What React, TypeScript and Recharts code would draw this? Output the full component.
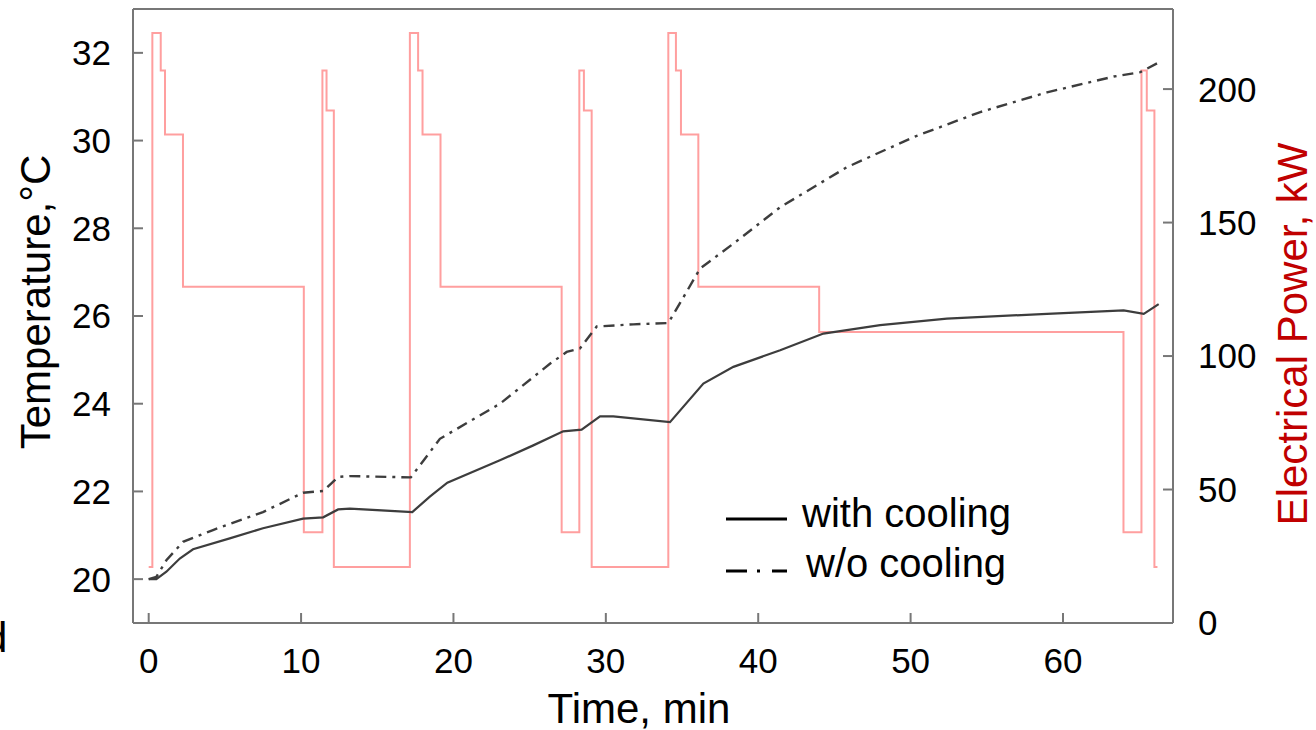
import { ComposedChart, Line, XAxis, YAxis } from 'recharts'

// axis ticks
const timeTicks = [0, 10, 20, 30, 40, 50, 60]
const tempTicks = [20, 22, 24, 26, 28, 30, 32]
const powerTicks = [0, 50, 100, 150, 200]

// temperature with cooling (min, °C)
const coolTime = [0, 0.5, 1.16, 2.04, 2.91, 5.32, 7.5, 10.13, 11.45, 12.43, 13.2, 17.3, 18.45, 19.6, 23.05, 25.24, 27.2, 28.41, 29.62, 30.49, 34.21, 36.4, 38.37, 41.44, 44.28, 48.0, 52.38, 58.95, 63.98, 65.3, 66.28]
const coolTemp = [20.0, 20.0, 20.17, 20.47, 20.68, 20.93, 21.16, 21.38, 21.41, 21.59, 21.61, 21.53, 21.88, 22.2, 22.71, 23.05, 23.37, 23.41, 23.71, 23.71, 23.58, 24.46, 24.84, 25.22, 25.6, 25.79, 25.94, 26.05, 26.13, 26.05, 26.27]

// temperature without cooling
const noCoolTime = [0, 0.5, 1.16, 2.25, 4.22, 7.5, 10.13, 11.45, 12.43, 13.2, 17.2, 19.11, 23.05, 26.33, 27.43, 28.3, 29.4, 31.8, 34.1, 34.98, 36.18, 38.37, 41.44, 45.8, 50.2, 54.57, 58.95, 63.33, 65.08, 66.17]
const noCoolTemp = [20.0, 20.05, 20.43, 20.85, 21.12, 21.53, 21.97, 22.01, 22.33, 22.35, 22.32, 23.2, 24.0, 24.91, 25.18, 25.26, 25.76, 25.81, 25.84, 26.36, 27.08, 27.65, 28.48, 29.39, 30.08, 30.65, 31.1, 31.46, 31.56, 31.76]

// electrical power steps (min, kW)
const powerTime = [0, 0.24, 0.79, 1.07, 2.25, 10.18, 11.4, 11.67, 12.15, 17.14, 17.68, 17.97, 19.15, 27.1, 28.26, 28.56, 29.07, 34.1, 34.6, 34.93, 36.07, 44.0, 63.97, 65.15, 65.5, 66.0, 66.2]
const powerKw = [21, 221, 207, 183, 126, 34, 207, 192, 21, 221, 207, 183, 126, 34, 207, 192, 21, 221, 207, 183, 126, 109, 34, 207, 192, 21, 21]

const seriesNames = ['with cooling', 'w/o cooling']

const zip = (xs: number[], ys: number[]) => xs.map((time, i) => ({ time, value: ys[i] }))

const coolData = zip(coolTime, coolTemp)
const noCoolData = zip(noCoolTime, noCoolTemp)
const powerData = zip(powerTime, powerKw)

const FONT = '"Liberation Sans", Arial, sans-serif'
const FRAME = '#777'
const tickStyle = { fill: '#000', fontSize: 35, fontFamily: FONT }

const TimeTitle = () => (
  <g fontFamily={FONT} fontSize={42} fill="#000">
    <text x={639} y={723} textAnchor="middle">Time, min</text>
    <text x={-16} y={652}>d</text>
  </g>
)

const TempTitle = () => (
  <text transform="translate(50,302) rotate(-90)" textAnchor="middle" fontFamily={FONT} fontSize={42} fill="#000">
    Temperature,°C
  </text>
)

const PowerTitle = () => (
  <text transform="translate(1307,334) rotate(-90)" textAnchor="middle" fontFamily={FONT} fontSize={42} fill="#c00000">
    Electrical Power, kW
  </text>
)

const LegendBox = () => (
  <svg width={320} height={100} style={{ position: 'absolute', left: 720, top: 490 }}>
    <line x1={6} x2={67} y1={29} y2={29} stroke="#000" strokeWidth={3} />
    <text x={82} y={37} fontFamily={FONT} fontSize={40}>{seriesNames[0]}</text>
    <line x1={6} x2={67} y1={81} y2={81} stroke="#000" strokeWidth={3} strokeDasharray="21 10 3 12 15 100" />
    <text x={86} y={87} fontFamily={FONT} fontSize={40}>{seriesNames[1]}</text>
  </svg>
)

export default function App() {
  return (
    <div style={{ position: 'absolute', left: 0, top: 0, width: 1316, height: 730, background: '#fff' }}>
      <ComposedChart width={1316} height={730} margin={{ top: 8, right: 0, bottom: 0, left: 0 }}>
        <XAxis
          xAxisId="b"
          dataKey="time"
          type="number"
          domain={[-1.03, 67.22]}
          ticks={timeTicks}
          interval={0}
          allowDataOverflow
          height={107}
          tickSize={-10}
          tickMargin={35}
          stroke={FRAME}
          strokeWidth={2}
          tick={tickStyle}
          label={TimeTitle}
        />
        <XAxis
          xAxisId="t"
          orientation="top"
          type="number"
          domain={[-1.03, 67.22]}
          ticks={timeTicks}
          interval={0}
          allowDataOverflow
          height={1}
          tickSize={-10}
          tickFormatter={() => ''}
          stroke={FRAME}
          strokeWidth={2}
        />
        <YAxis
          yAxisId="temp"
          type="number"
          domain={[19, 33]}
          ticks={tempTicks}
          interval={0}
          allowDataOverflow
          width={133}
          tickSize={-10}
          tickMargin={32}
          stroke={FRAME}
          strokeWidth={2}
          tick={tickStyle}
          label={TempTitle}
        />
        <YAxis
          yAxisId="power"
          orientation="right"
          type="number"
          domain={[0, 230]}
          ticks={powerTicks}
          interval={0}
          allowDataOverflow
          width={143}
          tickSize={-10}
          tickMargin={35}
          stroke={FRAME}
          strokeWidth={2}
          tick={tickStyle}
          label={PowerTitle}
        />
        <Line
          xAxisId="b"
          yAxisId="power"
          data={powerData}
          dataKey="value"
          name="power"
          type="stepAfter"
          stroke="#ff9f9f"
          strokeWidth={2}
          dot={false}
          isAnimationActive={false}
        />
        <Line
          xAxisId="b"
          yAxisId="temp"
          data={coolData}
          dataKey="value"
          name={seriesNames[0]}
          type="linear"
          stroke="#3d3d3d"
          strokeWidth={2.2}
          dot={false}
          isAnimationActive={false}
        />
        <Line
          xAxisId="b"
          yAxisId="temp"
          data={noCoolData}
          dataKey="value"
          name={seriesNames[1]}
          type="linear"
          stroke="#3d3d3d"
          strokeWidth={2.4}
          strokeDasharray="11 6 3 6"
          dot={false}
          isAnimationActive={false}
        />
      </ComposedChart>
      <LegendBox />
    </div>
  )
}
